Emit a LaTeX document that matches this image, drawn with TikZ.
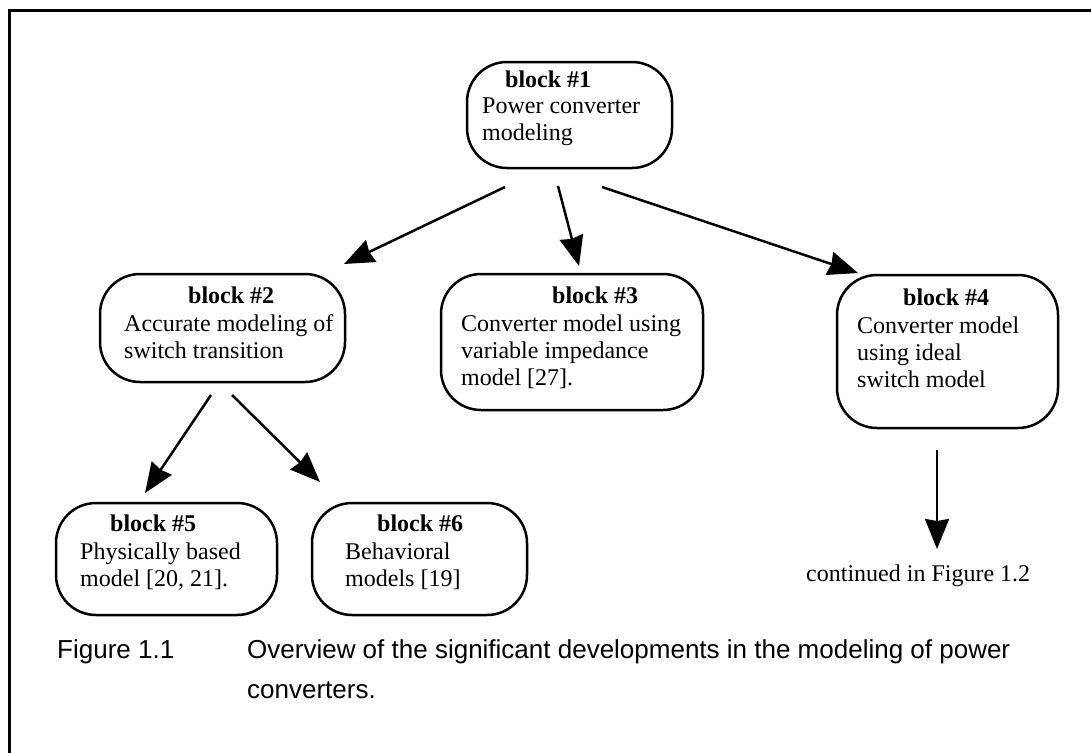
\documentclass[tikz,border=0pt]{standalone}
\usepackage{fontspec}
\setmainfont{Liberation Serif}
\newfontfamily\capfont{Liberation Sans}
\usetikzlibrary{arrows.meta}

\tikzset{
  blockbox/.style={draw, line width=2.5pt, rounded corners=40pt, inner sep=0pt},
  ttl/.style={anchor=base west, inner sep=0pt, font=\fontsize{24}{27}\selectfont\bfseries},
  txt/.style={anchor=base west, inner sep=0pt, font=\fontsize{24}{27}\selectfont},
  captext/.style={anchor=base west, inner sep=0pt, font=\capfont\fontsize{26}{40}\selectfont},
  arr/.style={line width=2.5pt, -{Stealth[length=30pt,width=24pt,inset=2pt]}},
}

\begin{document}
\begin{tikzpicture}[x=1pt,y=-1pt]
\useasboundingbox (0,0) rectangle (1091,752);
\clip (0,0) rectangle (1091,752);

% page frame
\draw[line width=3pt] (9,760) |- (1100,11);

% blocks
\node[blockbox, minimum width=205pt, minimum height=106pt] (b1) at (569.5,115) {};
\node[blockbox, minimum width=245pt, minimum height=108pt] (b2) at (222.5,328) {};
\node[blockbox, minimum width=262pt, minimum height=136pt] (b3) at (572,342) {};
\node[blockbox, minimum width=221pt, minimum height=153pt] (b4) at (947.5,351.5) {};
\node[blockbox, minimum width=221pt, minimum height=112pt] (b5) at (166.5,559) {};
\node[blockbox, minimum width=215pt, minimum height=112pt] (b6) at (419.5,559) {};

% block texts
\node[ttl] (t1) at (505,87) {block \#1};
\node[txt] (t1a) at (482,113) {Power converter};
\node[txt] (t1b) at (482,140) {modeling};

\node[ttl] (t2) at (188,303) {block \#2};
\node[txt] (t2a) at (124,331) {Accurate modeling of};
\node[txt] (t2b) at (124,358) {switch transition};

\node[ttl] (t3) at (552,303) {block \#3};
\node[txt] (t3a) at (461,331) {Converter model using};
\node[txt] (t3b) at (461,358) {variable impedance};
\node[txt] (t3c) at (461,385) {model [27].};

\node[ttl] (t4) at (903,305) {block \#4};
\node[txt] (t4a) at (857,333) {Converter model};
\node[txt] (t4b) at (857,360) {using ideal};
\node[txt] (t4c) at (857,387) {switch model};

\node[ttl] (t5) at (110,531) {block \#5};
\node[txt] (t5a) at (80,559) {Physically based};
\node[txt] (t5b) at (80,586) {model [20, 21].};

\node[ttl] (t6) at (377,531) {block \#6};
\node[txt] (t6a) at (345,559) {Behavioral};
\node[txt] (t6b) at (345,586) {models [19]};

\node[txt] (cont) at (806,581) {continued in Figure 1.2};

% arrow end points
\coordinate (a12s) at (505,187);
\coordinate (a12e) at (344,264);
\coordinate (a13s) at (558,186);
\coordinate (a13e) at (579,266);
\coordinate (a14s) at (602,187);
\coordinate (a14e) at (858,273);
\coordinate (a25s) at (211,395);
\coordinate (a25e) at (145,493);
\coordinate (a26s) at (232,395);
\coordinate (a26e) at (320,482);
\coordinate (a4s) at (937,450);
\coordinate (a4e) at (937,549);

\draw[arr] (a12s) -- (a12e);
\draw[arr] (a13s) -- (a13e);
\draw[arr] (a14s) -- (a14e);
\draw[arr] (a25s) -- (a25e);
\draw[arr] (a26s) -- (a26e);
\draw[arr] (a4s) -- (a4e);

% caption
\node[captext] (fig) at (57,658) {Figure 1.1};
\node[captext] (c1) at (247,658) {Overview of the significant developments in the modeling of power};
\node[captext] (c2) at (247,698) {converters.};
\end{tikzpicture}
\end{document}
